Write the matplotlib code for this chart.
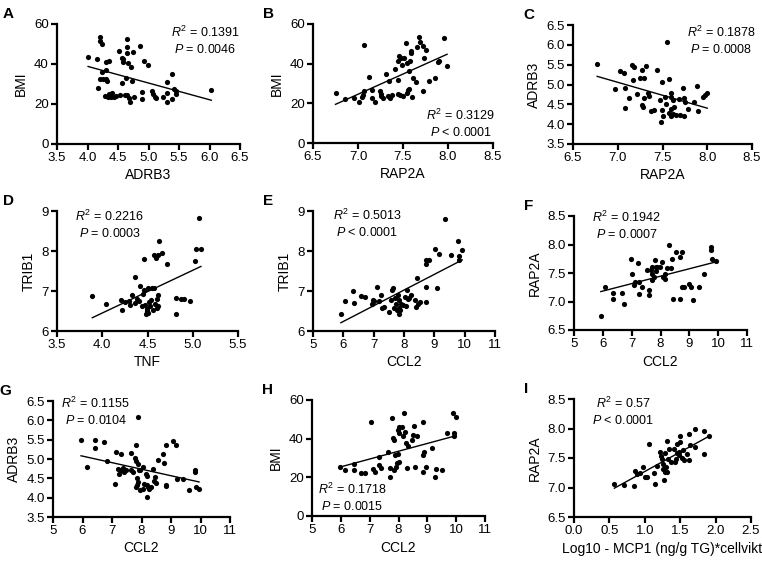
"""3x3 Streudiagramme mit Regressionsgerade (nachgebaut)."""
import matplotlib
matplotlib.use("Agg")
import matplotlib.pyplot as plt
import numpy as np

plt.rcParams["font.family"] = ["Liberation Sans", "DejaVu Sans"]
plt.rcParams["mathtext.fontset"] = "custom"
plt.rcParams["mathtext.rm"] = "Liberation Sans"
plt.rcParams["mathtext.it"] = "Liberation Sans:italic"

W, H = 762, 564

# --- Daten ----------------------------------------------------------------
a_x = [4.01, 4.16, 4.17, 4.20, 4.21, 4.24, 4.20, 4.25, 4.24, 4.30, 4.35, 4.30, 4.31, 4.32,
       4.28, 4.34, 4.39, 4.36, 4.40, 4.44, 4.47, 4.51, 4.54, 4.57, 4.58, 4.59, 4.61, 4.64,
       4.65, 4.63, 4.65, 4.66, 4.65, 4.57, 4.72, 4.68, 4.70, 4.75, 4.73, 4.77, 4.86, 4.92,
       4.99, 4.90, 4.90, 5.06, 5.08, 5.10, 5.13, 5.24, 5.30, 5.30, 5.31, 5.39, 5.39, 5.41,
       5.45, 5.45, 6.03]
a_y = [43.5, 42.5, 27.8, 51.5, 53.3, 50.2, 32.5, 32.7, 36.2, 41.2, 41.7, 32.5, 37.0, 31.5,
       24.0, 23.7, 23.7, 25.0, 25.7, 23.3, 24.2, 46.5, 24.5, 43.2, 41.2, 42.7, 24.5, 48.7,
       45.7, 33.2, 52.3, 40.3, 24.5, 30.7, 38.7, 22.8, 20.8, 46.2, 31.7, 23.7, 49.0, 41.5,
       39.5, 25.8, 22.5, 26.7, 25.0, 23.3, 22.8, 23.7, 20.8, 25.3, 31.2, 35.0, 22.3, 27.3,
       26.7, 25.0, 27.0]

b_x = [6.75, 6.85, 6.95, 7.01, 7.05, 7.04, 7.07, 7.07, 7.12, 7.15, 7.15, 7.19, 7.24, 7.25,
       7.26, 7.28, 7.31, 7.33, 7.34, 7.36, 7.38, 7.41, 7.44, 7.44, 7.44, 7.47, 7.46, 7.49,
       7.48, 7.50, 7.51, 7.53, 7.54, 7.54, 7.55, 7.57, 7.57, 7.58, 7.59, 7.59, 7.60, 7.61,
       7.64, 7.65, 7.68, 7.69, 7.72, 7.72, 7.73, 7.75, 7.79, 7.86, 7.89, 7.90, 7.95, 7.99]
b_y = [25.3, 22.4, 22.6, 20.6, 24.3, 23.1, 26.3, 49.2, 33.3, 26.8, 22.6, 20.9, 26.0, 23.5,
       24.6, 22.9, 34.8, 23.5, 31.5, 22.9, 24.0, 37.2, 41.5, 24.8, 31.8, 24.3, 43.9, 39.4,
       42.7, 23.5, 43.0, 50.3, 40.2, 25.1, 26.5, 27.1, 36.3, 41.5, 45.6, 46.6, 23.1, 32.7,
       31.0, 48.6, 53.6, 51.1, 48.9, 26.0, 42.7, 46.9, 31.5, 33.0, 41.0, 41.5, 53.1, 39.0]

c_x = [6.77, 6.97, 7.03, 7.07, 7.08, 7.08, 7.13, 7.16, 7.17, 7.18, 7.21, 7.25, 7.27, 7.27,
       7.28, 7.29, 7.29, 7.32, 7.34, 7.35, 7.37, 7.41, 7.44, 7.47, 7.49, 7.48, 7.49, 7.51,
       7.53, 7.54, 7.55, 7.57, 7.57, 7.59, 7.59, 7.60, 7.60, 7.62, 7.62, 7.63, 7.65, 7.68,
       7.70, 7.73, 7.74, 7.74, 7.75, 7.78, 7.85, 7.89, 7.90, 7.95, 7.97, 8.00]
c_y = [5.51, 4.88, 5.35, 5.30, 4.90, 4.42, 4.65, 5.49, 5.11, 5.45, 4.76, 5.17, 5.37, 4.48,
       4.44, 4.67, 5.16, 5.47, 4.78, 4.72, 4.33, 4.36, 5.37, 4.61, 4.36, 4.05, 5.07, 4.21,
       4.69, 4.51, 6.08, 4.27, 5.13, 4.69, 4.21, 4.37, 4.78, 4.26, 4.61, 4.44, 4.23, 4.63,
       4.23, 4.92, 4.65, 4.21, 4.57, 4.37, 4.57, 4.96, 4.32, 4.69, 4.74, 4.78]

d_x = [3.89, 4.04, 4.21, 4.22, 4.25, 4.30, 4.31, 4.33, 4.36, 4.36, 4.38, 4.41, 4.42, 4.44,
       4.45, 4.46, 4.46, 4.47, 4.48, 4.49, 4.49, 4.51, 4.51, 4.52, 4.53, 4.54, 4.55, 4.56,
       4.57, 4.57, 4.58, 4.59, 4.60, 4.60, 4.62, 4.62, 4.62, 4.63, 4.66, 4.71, 4.81, 4.81,
       4.87, 4.90, 4.97, 5.03, 5.04, 5.09, 5.07]
d_y = [6.88, 6.68, 6.78, 6.53, 6.73, 6.74, 6.64, 6.89, 7.35, 6.70, 6.79, 6.75, 7.12, 6.62,
       6.93, 7.02, 7.79, 6.64, 6.43, 6.56, 6.49, 7.08, 6.45, 6.73, 6.62, 6.78, 7.08, 6.53,
       7.89, 7.08, 6.68, 7.83, 6.79, 6.58, 6.91, 7.89, 6.63, 8.25, 7.95, 7.67, 6.83, 6.43,
       6.79, 6.81, 6.74, 7.75, 8.06, 8.04, 8.83]

e_x = [5.92, 6.05, 6.33, 6.35, 6.58, 6.71, 6.94, 6.99, 7.02, 7.10, 7.19, 7.24, 7.27, 7.35,
       7.52, 7.57, 7.61, 7.65, 7.68, 7.71, 7.74, 7.76, 7.80, 7.82, 7.83, 7.85, 7.87, 7.91,
       7.96, 8.02, 8.07, 8.09, 8.13, 8.18, 8.24, 8.35, 8.38, 8.44, 8.46, 8.54, 8.71, 8.73,
       8.73, 8.73, 8.81, 9.03, 9.10, 9.15, 9.36, 9.54, 9.78, 9.82, 9.82, 9.92]
e_y = [6.43, 6.74, 7.00, 6.70, 6.88, 6.85, 6.67, 6.78, 6.74, 7.10, 6.75, 6.89, 6.57, 6.60,
       6.48, 6.78, 7.03, 7.08, 6.58, 6.83, 6.68, 6.52, 6.89, 6.58, 6.43, 6.77, 6.53, 6.68,
       6.64, 6.85, 6.62, 7.02, 6.79, 6.83, 6.89, 6.77, 6.60, 7.33, 6.68, 6.73, 6.73, 7.10,
       7.78, 7.68, 7.77, 8.04, 7.08, 7.93, 8.81, 7.89, 8.25, 7.87, 7.78, 8.02]

f_x = [5.93, 6.09, 6.36, 6.36, 6.65, 6.74, 6.97, 7.02, 7.08, 7.10, 7.22, 7.24, 7.26, 7.35,
       7.52, 7.59, 7.61, 7.67, 7.69, 7.72, 7.72, 7.78, 7.80, 7.83, 7.83, 7.89, 7.97, 8.06,
       8.10, 8.14, 8.17, 8.23, 8.31, 8.38, 8.43, 8.41, 8.53, 8.69, 8.73, 8.69, 8.75, 8.81,
       8.98, 9.07, 9.12, 9.32, 9.52, 9.75, 9.76, 9.79, 9.91]
f_y = [6.75, 7.26, 7.15, 7.04, 7.15, 6.95, 7.74, 7.48, 7.29, 7.35, 7.67, 7.35, 7.14, 7.26,
       7.55, 7.11, 7.20, 7.56, 7.48, 7.37, 7.60, 7.43, 7.72, 7.60, 7.54, 7.60, 7.60, 7.70,
       7.43, 7.48, 7.40, 7.58, 7.99, 7.58, 7.05, 7.75, 7.87, 7.78, 7.87, 7.05, 7.25, 7.25,
       7.30, 7.26, 7.02, 7.25, 7.49, 7.96, 7.90, 7.74, 7.71]

g_x = [5.95, 6.16, 6.44, 6.44, 6.72, 6.83, 7.10, 7.15, 7.21, 7.24, 7.32, 7.32, 7.36, 7.40,
       7.49, 7.63, 7.66, 7.72, 7.77, 7.81, 7.83, 7.83, 7.85, 7.85, 7.89, 7.89, 7.92, 7.94,
       7.94, 8.04, 8.06, 8.09, 8.15, 8.17, 8.19, 8.20, 8.23, 8.25, 8.31, 8.40, 8.42, 8.45,
       8.48, 8.57, 8.74, 8.76, 8.82, 8.83, 8.83, 9.08, 9.16, 9.19, 9.39, 9.61, 9.81, 9.81,
       9.85, 9.95, 7.89]
g_y = [5.50, 4.79, 5.48, 5.29, 5.44, 4.95, 4.36, 5.18, 4.73, 4.60, 5.12, 4.71, 4.78, 4.66,
       4.71, 5.16, 4.71, 4.66, 5.03, 5.35, 4.95, 4.28, 4.52, 4.34, 4.88, 4.41, 4.71, 4.19,
       4.72, 4.79, 4.23, 4.36, 4.60, 4.34, 4.02, 4.55, 4.28, 4.23, 4.28, 4.75, 4.42, 4.53,
       4.38, 4.97, 5.14, 4.90, 4.32, 5.37, 4.29, 5.47, 5.35, 4.47, 4.47, 4.19, 4.71, 4.66,
       4.28, 4.23, 6.09]

h_x = [5.98, 6.13, 6.44, 6.44, 6.71, 6.85, 7.05, 7.11, 7.19, 7.31, 7.34, 7.39, 7.65, 7.69,
       7.71, 7.77, 7.80, 7.85, 7.85, 7.88, 7.92, 7.94, 7.98, 7.98, 8.00, 8.02, 8.03, 8.11,
       8.17, 8.19, 8.23, 8.25, 8.29, 8.34, 8.46, 8.52, 8.54, 8.58, 8.63, 8.84, 8.86, 8.86,
       8.89, 8.96, 9.15, 9.27, 9.30, 9.50, 9.67, 9.90, 9.92, 9.94, 10.0]
h_y = [25.2, 23.8, 26.7, 23.8, 22.1, 22.4, 48.8, 24.1, 22.9, 30.7, 26.4, 24.7, 33.3, 24.7,
       20.3, 50.5, 40.2, 39.3, 23.8, 31.6, 25.2, 27.2, 32.1, 44.5, 46.2, 42.8, 28.1, 46.2,
       41.4, 53.1, 43.6, 37.6, 24.7, 36.2, 39.3, 41.9, 46.6, 25.5, 41.4, 48.8, 31.6, 22.6,
       32.9, 25.5, 35.0, 20.3, 24.1, 23.8, 42.8, 53.1, 42.8, 41.4, 51.4]

i_x = [0.57, 0.70, 0.85, 0.86, 0.89, 0.93, 0.97, 1.00, 1.03, 1.06, 1.13, 1.14, 1.17, 1.22,
       1.23, 1.24, 1.25, 1.26, 1.27, 1.28, 1.29, 1.30, 1.31, 1.31, 1.33, 1.34, 1.37, 1.41,
       1.43, 1.44, 1.45, 1.46, 1.48, 1.49, 1.50, 1.50, 1.52, 1.54, 1.56, 1.59, 1.62, 1.63,
       1.64, 1.71, 1.71, 1.83, 1.84, 1.91]
i_y = [7.06, 7.05, 7.03, 7.28, 7.23, 7.24, 7.34, 7.17, 7.17, 7.73, 7.24, 7.06, 7.36, 7.61,
       7.53, 7.49, 7.32, 7.40, 7.13, 7.26, 7.59, 7.34, 7.79, 7.26, 7.49, 7.66, 7.43, 7.66,
       7.43, 7.49, 7.59, 7.73, 7.60, 7.55, 7.87, 7.77, 7.50, 7.63, 7.46, 7.57, 7.47, 7.90,
       7.72, 7.99, 7.69, 7.57, 7.95, 7.88]

r2_texts = ["0.1391", "0.3129", "0.1878", "0.2216", "0.5013", "0.1942", "0.1155", "0.1718", "0.57"]
p_texts = ["= 0.0046", "< 0.0001", "= 0.0008", "= 0.0003", "< 0.0001", "= 0.0007",
           "= 0.0104", "= 0.0015", "< 0.0001"]

# --- Layout: (Buchstabe, x, y, xlabel, ylabel, xlim, xticks, ylim, yticks,
#              Achsenbox in Pixel l, r, oben, unten, Textmitte x, Textzeile y) --
panels = [
    ("A", a_x, a_y, "ADRB3", "BMI", (3.5, 6.5), np.arange(3.5, 6.51, 0.5), (0, 60), [0, 20, 40, 60],
     (57, 240, 24, 144), (205, 32)),
    ("B", b_x, b_y, "RAP2A", "BMI", (6.5, 8.5), np.arange(6.5, 8.51, 0.5), (0, 60), [0, 20, 40, 60],
     (313, 493, 24, 143), (461, 115)),
    ("C", c_x, c_y, "RAP2A", "ADRB3", (6.5, 8.5), np.arange(6.5, 8.51, 0.5), (3.5, 6.5),
     np.arange(3.5, 6.51, 0.5), (573, 752, 25, 144), (721, 32)),
    ("D", d_x, d_y, "TNF", "TRIB1", (3.5, 5.5), np.arange(3.5, 5.51, 0.5), (6, 9), [6, 7, 8, 9],
     (57, 238, 211, 331), (110, 216)),
    ("E", e_x, e_y, "CCL2", "TRIB1", (5, 11), range(5, 12), (6, 9), [6, 7, 8, 9],
     (313, 495, 211, 331), (367, 215)),
    ("F", f_x, f_y, "CCL2", "RAP2A", (5, 11), range(5, 12), (6.5, 8.5), np.arange(6.5, 8.51, 0.5),
     (574, 747, 216, 330), (627, 217)),
    ("G", g_x, g_y, "CCL2", "ADRB3", (5, 11), range(5, 12), (3.5, 6.5), np.arange(3.5, 6.51, 0.5),
     (53, 230, 401, 517), (96, 403)),
    ("H", h_x, h_y, "CCL2", "BMI", (5, 11), range(5, 12), (0, 60), [0, 20, 40, 60],
     (312, 485, 400, 516), (352, 489)),
    ("I", i_x, i_y, "Log10 - MCP1 (ng/g TG)*cellvikt", "RAP2A", (0, 2.5), np.arange(0, 2.51, 0.5),
     (6.5, 8.5), np.arange(6.5, 8.51, 0.5), (574, 751, 399, 517), (623, 403)),
]

fig = plt.figure(figsize=(W / 100, H / 100), dpi=100)

for idx, (letter, x, y, xl, yl, xlim, xt, ylim, yt, box, txt) in enumerate(panels):
    l, r, t, b = box
    ax = fig.add_axes([l / W, 1 - b / H, (r - l) / W, (b - t) / H])
    ax.scatter(x, y, s=14, color="black", linewidths=0, zorder=3)

    xs = np.array(x)
    k, d = np.polyfit(xs, np.array(y), 1)
    xx = np.array([xs.min(), xs.max()])
    ax.plot(xx, k * xx + d, color="black", lw=1.0)

    ax.set_xlim(*xlim)
    ax.set_ylim(*ylim)
    ax.set_xticks(list(xt))
    ax.set_yticks(list(yt))
    ax.set_xticklabels([f"{v:g}" if float(v).is_integer() and xlim[1] > 10 else f"{v:.1f}" for v in xt])
    if ylim[1] > 10 or ylim == (6, 9):
        ax.set_yticklabels([f"{v:g}" for v in yt])
    else:
        ax.set_yticklabels([f"{v:.1f}" for v in yt])
    ax.set_xlabel(xl, fontsize=10, labelpad=3)
    ax.set_ylabel(yl, fontsize=10, labelpad=4)
    for side in ("top", "right"):
        ax.spines[side].set_visible(False)
    for side in ("left", "bottom"):
        ax.spines[side].set_linewidth(1.6)
    ax.tick_params(width=1.6, length=4, labelsize=9.5, pad=2)
    ax.patch.set_alpha(0)

    tx, ty = txt
    fig.text(tx / W, 1 - ty / H, rf"$R^2$ = {r2_texts[idx]}", ha="center", va="center", fontsize=9)
    fig.text(tx / W, 1 - (ty + 17.5) / H, rf"$P$ {p_texts[idx]}", ha="center", va="center", fontsize=9)

    lx = l - 54 if letter in "ADG" else l - 50
    fig.text(lx / W, 1 - (t - 10) / H, letter, fontsize=11, fontweight="bold", ha="left", va="center")

fig.savefig("out.png", dpi=100)
